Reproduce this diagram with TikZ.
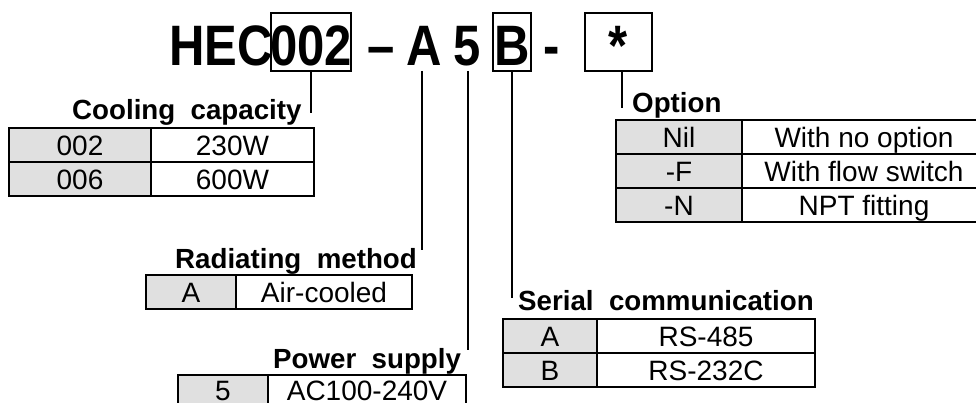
\documentclass[tikz,border=0pt]{standalone}
\usepackage{fontspec}
\setmainfont{Liberation Sans}
\newcommand{\ttltext}[1]{\scalebox{0.86}[1]{\fontsize{57}{60}\selectfont\bfseries #1}}
\begin{document}
\begin{tikzpicture}[x=1pt,y=-1pt,
  conn/.style={line width=1.3pt},
  codebox/.style={draw, line width=2pt, minimum height=58pt, inner sep=0pt},
  ttl/.style={anchor=base, inner sep=0pt},
  lbl/.style={font=\fontsize{27.7}{30}\selectfont\bfseries, anchor=base west, inner sep=0pt},
  cellbase/.style={draw, line width=2pt, font=\fontsize{28}{30}\selectfont, inner sep=0pt,
    text height=20.5pt, text depth=0pt, minimum height=34pt},
  keycell/.style={cellbase, fill=black!12},
  valcell/.style={cellbase, fill=white}]
\fill[white] (0,0) rectangle (976,403);
\useasboundingbox (0,0) rectangle (976,403);

% title
\node[ttl, anchor=base east] (hec) at (273,66) {\ttltext{HEC}};
\node[codebox, minimum width=80pt] (b002) at (311,42) {};
\node[ttl] (t002) at (311,66) {\ttltext{002}};
\node[ttl] (dash1) at (381,66) {\ttltext{–}};
\node[ttl] (tA) at (424,66) {\ttltext{A}};
\node[ttl] (t5) at (467,66) {\ttltext{5}};
\node[codebox, minimum width=38pt] (bB) at (512,42) {};
\node[ttl] (tB) at (512,66) {\ttltext{B}};
\node[ttl] (dash2) at (552,66) {\ttltext{-}};
\node[codebox, minimum width=67pt] (bS) at (618.5,42) {};
\node[ttl] (tS) at (618.5,66) {\ttltext{*}};

% connectors
\coordinate (c002) at (311,113);
\coordinate (aTop) at (422,71);
\coordinate (aBot) at (422,250);
\coordinate (pTop) at (468,71);
\coordinate (pBot) at (468,350);
\coordinate (sBot) at (512,298);
\coordinate (oBot) at (622,108);
\draw[conn] (b002.south) -- (c002);
\draw[conn] (aTop) -- (aBot);
\draw[conn] (pTop) -- (pBot);
\draw[conn] (bB.south) -- (sBot);
\draw[conn] (bS.south -| oBot) -- (oBot);

% Cooling capacity
\node[lbl] (lcool) at (72,120) {Cooling\ \ capacity};
\node[keycell, minimum width=142pt] (k1a) at (80,145.5) {002};
\node[valcell, minimum width=163pt] (v1a) at (232.5,145.5) {230W};
\node[keycell, minimum width=142pt] (k1b) at (80,179) {006};
\node[valcell, minimum width=163pt] (v1b) at (232.5,179) {600W};

% Radiating method
\node[lbl] (lrad) at (175,268) {Radiating\ \ method};
\node[keycell, minimum width=90pt] (k2) at (191,292) {A};
\node[valcell, minimum width=176pt] (v2) at (324,292) {Air-cooled};

% Power supply
\node[lbl] (lpow) at (273,368) {Power\ \ supply};
\node[keycell, minimum width=90pt, text height=17pt] (k3) at (223,392) {5};
\node[valcell, minimum width=198pt, text height=17pt] (v3) at (367,392) {AC100-240V};

% Serial communication
\node[lbl] (lser) at (518,310) {Serial\ \ communication};
\node[keycell, minimum width=94pt] (k4a) at (550,336) {A};
\node[valcell, minimum width=218pt] (v4a) at (706,336) {RS-485};
\node[keycell, minimum width=94pt] (k4b) at (550,370) {B};
\node[valcell, minimum width=218pt] (v4b) at (706,370) {RS-232C};

% Option
\node[lbl] (lopt) at (632,113) {Option};
\node[keycell, minimum width=126pt] (k5a) at (679,137) {Nil};
\node[valcell, minimum width=244pt] (v5a) at (864,137) {With no option};
\node[keycell, minimum width=126pt] (k5b) at (679,171) {-F};
\node[valcell, minimum width=244pt] (v5b) at (864,171) {With flow switch};
\node[keycell, minimum width=126pt] (k5c) at (679,205) {-N};
\node[valcell, minimum width=244pt] (v5c) at (864,205) {NPT fitting};
\end{tikzpicture}
\end{document}
